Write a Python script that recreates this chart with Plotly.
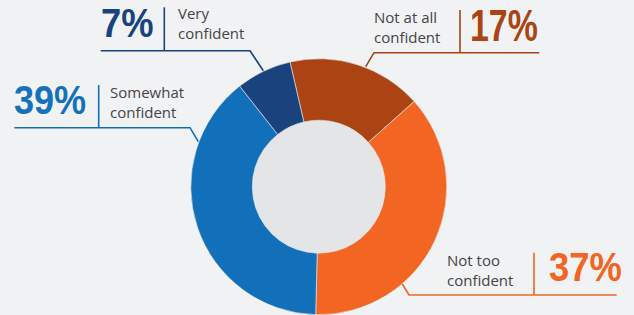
import plotly.graph_objects as go

# ---- data ----
categories = ["Not at all confident", "Not too confident", "Somewhat confident", "Very confident"]
values = [17, 37, 39, 7]
pct_labels = ["17%", "37%", "39%", "7%"]
label_texts = ["Not at all<br>confident", "Not too<br>confident", "Somewhat<br>confident", "Very<br>confident"]
colors = ["#AB4313", "#F26522", "#1170B9", "#1A437D"]
pct_colors = ["#AB4313", "#F26522", "#1572BA", "#1A437D"]

W, H = 634, 315
BG = "#F1F2F4"
HOLE = "#E4E5E7"
CX, CY, R, RH = 318.8, 186.7, 128.0, 66.5


def px(x):
    return x / W


def py(y):
    return 1 - y / H


fig = go.Figure()
fig.add_trace(go.Pie(
    labels=categories, values=values, sort=False, direction="clockwise",
    rotation=-13, hole=RH / R,
    marker=dict(colors=colors, line=dict(color="#E9EBEE", width=0.6)),
    textinfo="none", hoverinfo="label+percent", showlegend=False,
    domain=dict(x=[px(CX - R), px(CX + R)], y=[py(CY + R), py(CY - R)]),
))

shapes = []
# hole fill (behind the slices)
shapes.append(dict(type="circle", xref="paper", yref="paper", layer="below",
                   x0=px(CX - RH - 2), x1=px(CX + RH + 2),
                   y0=py(CY + RH + 2), y1=py(CY - RH - 2),
                   fillcolor=HOLE, line=dict(width=0)))

# leader lines: (path points, divider x, divider y0, y1, color index)
leaders = [
    ([(539.3, 52.7), (374, 52.7), (365.7, 66.7)], 460, 10, 52.7, 0),
    ([(616.7, 295), (409, 295), (402.3, 284)], 534, 252.7, 295, 1),
    ([(14.3, 127.7), (190, 127.7), (198.3, 141.7)], 98.7, 85, 127.7, 2),
    ([(100.7, 50.7), (250, 50.7), (263.3, 70.7)], 164.3, 7.3, 50.7, 3),
]
for pts, dx, dy0, dy1, ci in leaders:
    path = "M " + " L ".join(f"{px(x):.5f},{py(y):.5f}" for x, y in pts)
    shapes.append(dict(type="path", xref="paper", yref="paper", path=path,
                       line=dict(color=colors[ci], width=1.6)))
    shapes.append(dict(type="line", xref="paper", yref="paper",
                       x0=px(dx), x1=px(dx), y0=py(dy0), y1=py(dy1),
                       line=dict(color=colors[ci], width=1.6)))

annotations = []
pct_font = "Liberation Sans, Arial, sans-serif"
# percentage positions (left x, center y, font size)
pct_pos = [(468.4, 25.9, 45), (546.7, 267.1, 40), (12.0, 100.1, 41), (98.7, 23.0, 41)]
for i, (x, y, s) in enumerate(pct_pos):
    annotations.append(dict(xref="paper", yref="paper", x=px(x), y=py(y),
                            xanchor="left", yanchor="middle", align="left",
                            showarrow=False, text=pct_labels[i],
                            font=dict(family=pct_font, size=s, weight=700,
                                      color=pct_colors[i])))
lab_pos = [(372, 27.2), (444.7, 270.4), (108, 101.7), (176.3, 22.7)]
for i, (x, y) in enumerate(lab_pos):
    annotations.append(dict(xref="paper", yref="paper", x=px(x), y=py(y),
                            xanchor="left", yanchor="middle", align="left",
                            showarrow=False, text=label_texts[i],
                            font=dict(family="Open Sans, sans-serif", size=15, color="#444444")))

fig.update_layout(width=W, height=H, margin=dict(l=0, r=0, t=0, b=0),
                  paper_bgcolor=BG, plot_bgcolor=BG,
                  shapes=shapes, annotations=annotations)

# remove default page margin; condense the big percentage numbers (condensed bold look)
post = """
document.body.style.margin = '0';
var gd = document.getElementById('{plot_id}');
var widths = {'17%': 67.8, '37%': 72.8, '39%': 72.2, '7%': 52.5};
gd.querySelectorAll('text.annotation-text').forEach(function (t) {
  var w = widths[t.textContent];
  if (w) { t.setAttribute('textLength', w); t.setAttribute('lengthAdjust', 'spacingAndGlyphs'); }
});
"""
fig.write_html("out.html", post_script=post, config={"displayModeBar": False})
